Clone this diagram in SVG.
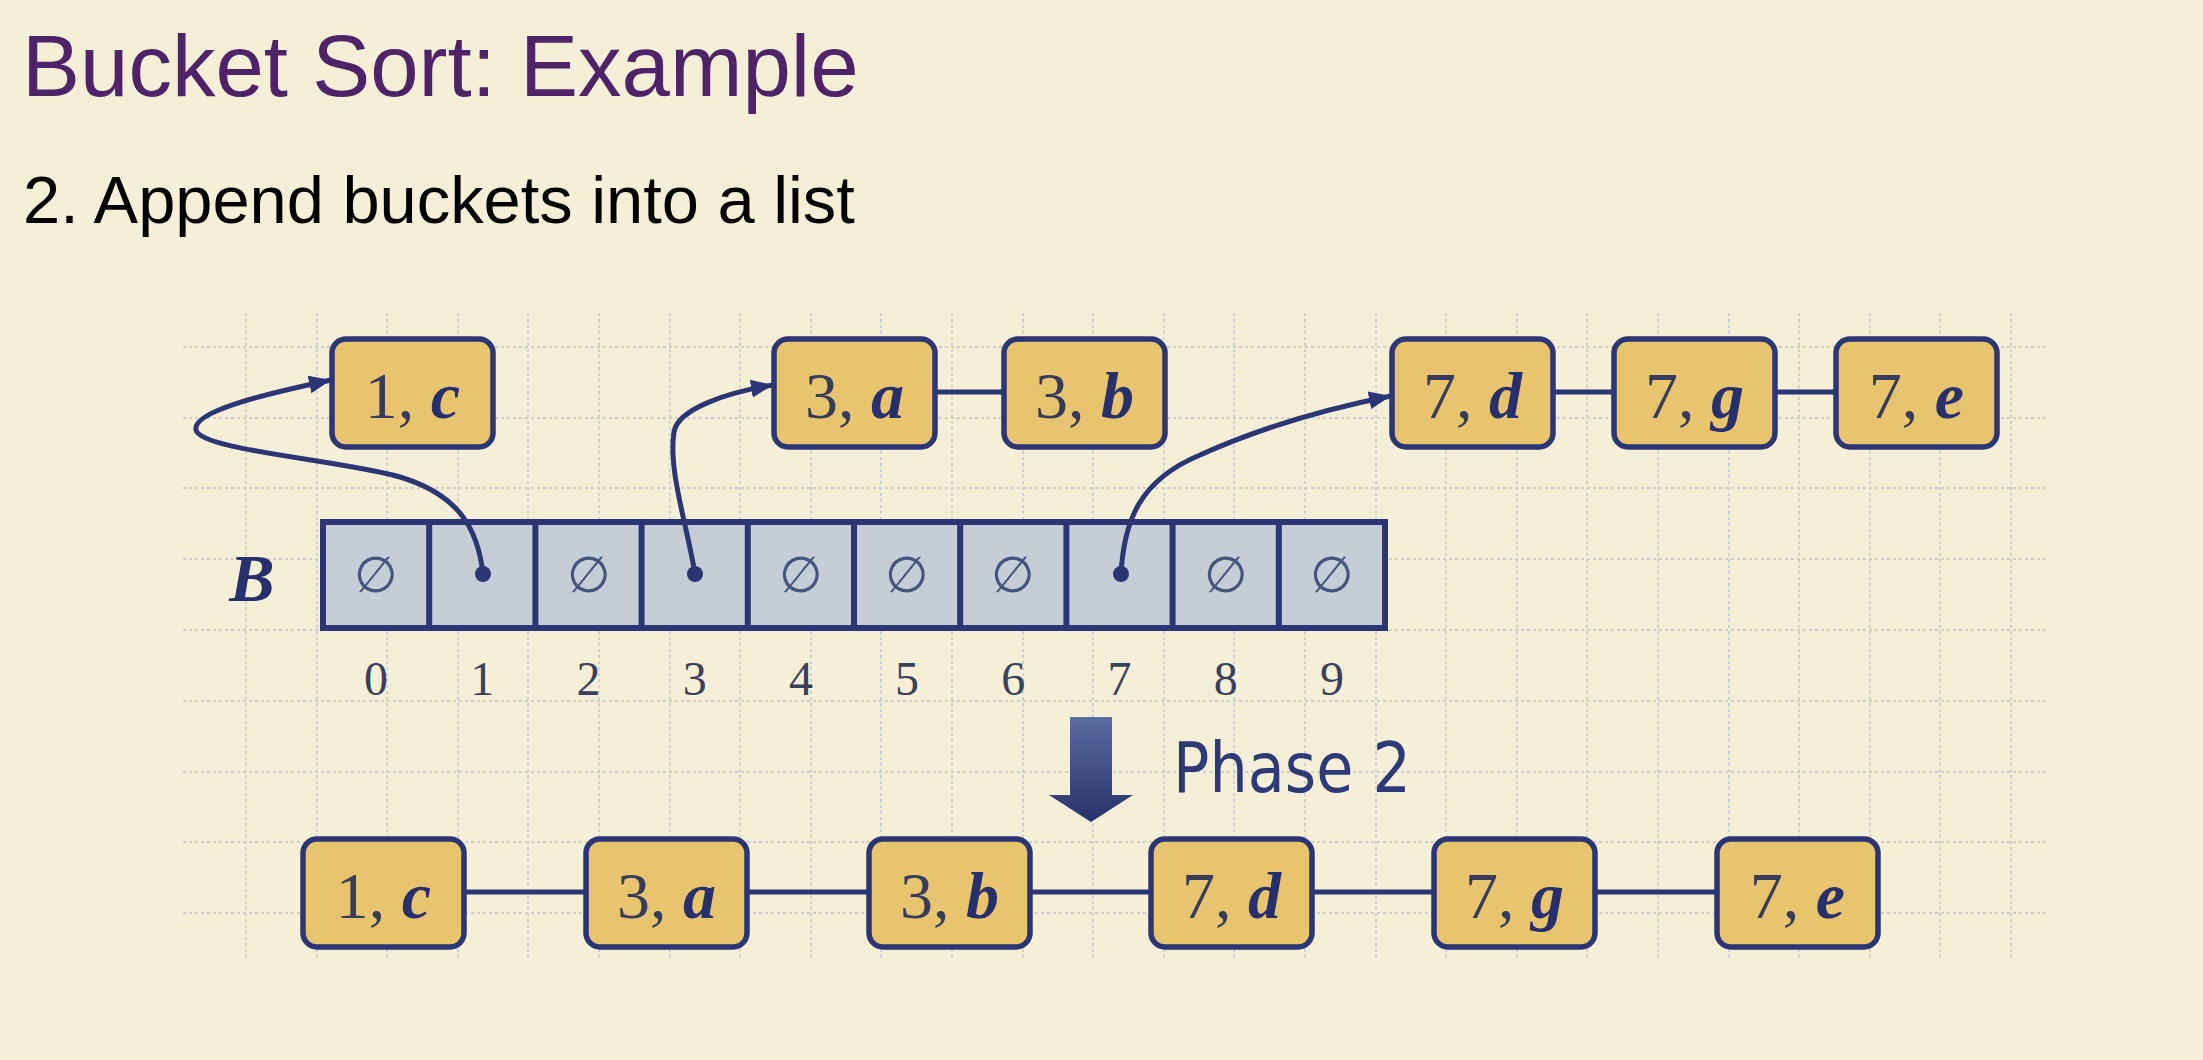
<svg xmlns="http://www.w3.org/2000/svg" width="2203" height="1060" viewBox="0 0 2203 1060">
<defs>
<style>
.grid{stroke:#cdcfcd;stroke-width:1.8;stroke-dasharray:3 3;fill:none}
.node rect{fill:#e9c46e;stroke:#2c3674;stroke-width:5.5}
.lbl{font-family:"Liberation Serif","Times New Roman",serif;font-size:66px;text-anchor:middle}
.num{fill:#363c5a}
.let{fill:#27306c;font-weight:bold;font-style:italic}
.idx{font-family:"Liberation Serif","Times New Roman",serif;font-size:48px;fill:#3a3f5c;text-anchor:middle}
.emp{font-family:"DejaVu Sans",sans-serif;font-weight:200;font-size:50px;fill:#46547e;text-anchor:middle}
.link{stroke:#2c3674;stroke-width:5;fill:none}
.ptr{stroke:#2c3674;stroke-width:5;fill:none;marker-end:url(#ah)}
</style>
<marker id="ah" markerUnits="userSpaceOnUse" markerWidth="24" markerHeight="20" refX="22" refY="10" orient="auto">
<path d="M0,1 L22,10 L0,19 z" fill="#2c3674"/>
</marker>
<linearGradient id="pg" x1="0" y1="0" x2="0" y2="1">
<stop offset="0" stop-color="#5a6aa2"/>
<stop offset="1" stop-color="#27336a"/>
</linearGradient>
</defs>
<rect width="2203" height="1060" fill="#f5efd7"/>
<text x="22" y="96" font-family="Liberation Sans, Arial, sans-serif" font-size="87" fill="#4e2368">Bucket Sort: Example</text>
<text x="23" y="223" font-family="Liberation Sans, Arial, sans-serif" font-size="66.8" fill="#000">2. Append buckets into a list</text>
<g id="grid">
<path class="grid" d="M246,313V958M317,313V958M387,313V958M458,313V958M528,313V958M599,313V958M670,313V958M740,313V958M811,313V958M881,313V958M952,313V958M1023,313V958M1093,313V958M1164,313V958M1234,313V958M1305,313V958M1376,313V958M1446,313V958M1517,313V958M1587,313V958M1658,313V958M1729,313V958M1799,313V958M1870,313V958M1940,313V958M2011,313V958"/>
<path class="grid" d="M183,347H2046M183,418H2046M183,488H2046M183,559H2046M183,630H2046M183,701H2046M183,772H2046M183,842H2046M183,913H2046"/>
</g>
<g id="array-B">
<text x="252" y="601" font-family="Liberation Serif, Times New Roman, serif" font-size="68" font-weight="bold" font-style="italic" fill="#27306c" text-anchor="middle">B</text>
<rect x="323" y="522" width="1062" height="106" fill="#c5ced6" stroke="#2c3674" stroke-width="6"/>
<path d="M429.2,522V628M535.4,522V628M641.6,522V628M747.8,522V628M854,522V628M960.2,522V628M1066.4,522V628M1172.6,522V628M1278.8,522V628" stroke="#2c3674" stroke-width="6"/>
<text class="emp" x="376" y="592">∅</text>
<text class="emp" x="588.5" y="592">∅</text>
<text class="emp" x="801" y="592">∅</text>
<text class="emp" x="907" y="592">∅</text>
<text class="emp" x="1013.3" y="592">∅</text>
<text class="emp" x="1225.7" y="592">∅</text>
<text class="emp" x="1332" y="592">∅</text>
<circle cx="483" cy="574" r="8" fill="#2c3674"/>
<circle cx="695" cy="574" r="8" fill="#2c3674"/>
<circle cx="1121" cy="574" r="8" fill="#2c3674"/>
<text class="idx" x="376" y="695">0</text>
<text class="idx" x="482.3" y="695">1</text>
<text class="idx" x="588.5" y="695">2</text>
<text class="idx" x="694.7" y="695">3</text>
<text class="idx" x="800.9" y="695">4</text>
<text class="idx" x="907.1" y="695">5</text>
<text class="idx" x="1013.3" y="695">6</text>
<text class="idx" x="1119.5" y="695">7</text>
<text class="idx" x="1225.7" y="695">8</text>
<text class="idx" x="1331.9" y="695">9</text>
</g>
<g id="connectors">
<path class="ptr" d="M483,574 C478,530 460,495 400,477 C340,460 200,450 196,430 C192,412 260,395 331,380"/>
<path class="ptr" d="M695,574 C687,525 668,470 674,432 C678,408 730,392 773,385"/>
<path class="ptr" d="M1121,574 C1124,520 1140,480 1200,455 C1260,428 1330,408 1391,396"/>
<path class="link" d="M935,392H1004M1553,392H1614M1775,392H1836"/>
<path class="link" d="M464,892H586M747,892H869M1030,892H1151M1312,892H1434M1595,892H1717"/>
</g>
<g id="top-1c" class="node"><rect x="332" y="339" width="161" height="108" rx="14"/><text class="lbl" x="412.5" y="418"><tspan class="num">1, </tspan><tspan class="let">c</tspan></text></g>
<g id="top-3a" class="node"><rect x="774" y="339" width="161" height="108" rx="14"/><text class="lbl" x="854.5" y="418"><tspan class="num">3, </tspan><tspan class="let">a</tspan></text></g>
<g id="top-3b" class="node"><rect x="1004" y="339" width="161" height="108" rx="14"/><text class="lbl" x="1084.5" y="418"><tspan class="num">3, </tspan><tspan class="let">b</tspan></text></g>
<g id="top-7d" class="node"><rect x="1392" y="339" width="161" height="108" rx="14"/><text class="lbl" x="1472.5" y="418"><tspan class="num">7, </tspan><tspan class="let">d</tspan></text></g>
<g id="top-7g" class="node"><rect x="1614" y="339" width="161" height="108" rx="14"/><text class="lbl" x="1694.5" y="418"><tspan class="num">7, </tspan><tspan class="let">g</tspan></text></g>
<g id="top-7e" class="node"><rect x="1836" y="339" width="161" height="108" rx="14"/><text class="lbl" x="1916.5" y="418"><tspan class="num">7, </tspan><tspan class="let">e</tspan></text></g>
<g id="phase2">
<polygon points="1070,717 1112,717 1112,795 1133,795 1091,822 1049,795 1070,795" fill="url(#pg)"/>
<text x="1173" y="792" font-family="DejaVu Sans Condensed, DejaVu Sans, sans-serif" font-size="70" fill="#2e3a78" textLength="238" lengthAdjust="spacingAndGlyphs">Phase 2</text>
</g>
<g id="bot-1c" class="node"><rect x="303" y="839" width="161" height="108" rx="14"/><text class="lbl" x="383.5" y="918"><tspan class="num">1, </tspan><tspan class="let">c</tspan></text></g>
<g id="bot-3a" class="node"><rect x="586" y="839" width="161" height="108" rx="14"/><text class="lbl" x="666.5" y="918"><tspan class="num">3, </tspan><tspan class="let">a</tspan></text></g>
<g id="bot-3b" class="node"><rect x="869" y="839" width="161" height="108" rx="14"/><text class="lbl" x="949.5" y="918"><tspan class="num">3, </tspan><tspan class="let">b</tspan></text></g>
<g id="bot-7d" class="node"><rect x="1151" y="839" width="161" height="108" rx="14"/><text class="lbl" x="1231.5" y="918"><tspan class="num">7, </tspan><tspan class="let">d</tspan></text></g>
<g id="bot-7g" class="node"><rect x="1434" y="839" width="161" height="108" rx="14"/><text class="lbl" x="1514.5" y="918"><tspan class="num">7, </tspan><tspan class="let">g</tspan></text></g>
<g id="bot-7e" class="node"><rect x="1717" y="839" width="161" height="108" rx="14"/><text class="lbl" x="1797.5" y="918"><tspan class="num">7, </tspan><tspan class="let">e</tspan></text></g>
</svg>
